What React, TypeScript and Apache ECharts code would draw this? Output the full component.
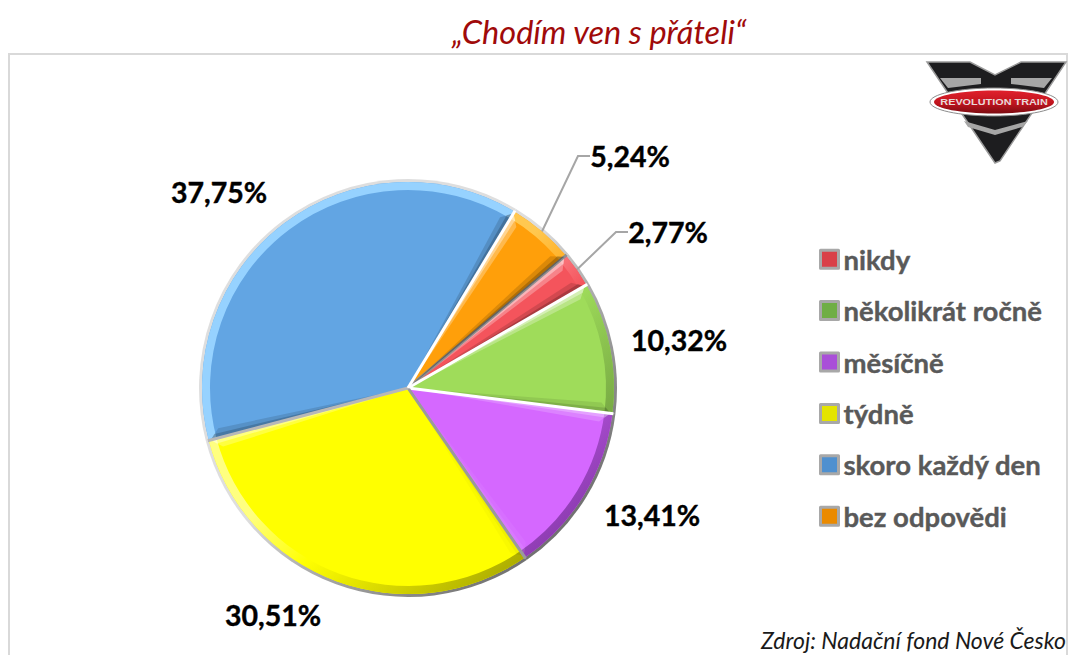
import React, { useEffect, useRef } from "react";
import * as echarts from "echarts";

const categories = ["nikdy", "několikrát ročně", "měsíčně", "týdně", "skoro každý den", "bez odpovědi"];
const values = [2.77, 10.32, 13.41, 30.51, 37.75, 5.24];
const labels = ["2,77%", "10,32%", "13,41%", "30,51%", "37,75%", "5,24%"];
const faceColors = ["#f4545c", "#9fdc5a", "#d568ff", "#ffff00", "#62a5e3", "#ff9f0a"];
const lightColors = ["#ff9a9e", "#d6f5a0", "#e9aaff", "#ffff80", "#96d2ff", "#ffc850"];
const darkColors = ["#a82c32", "#66933a", "#8c3bb0", "#a8a800", "#3f79b2", "#b86c00"];
const legendColors = ["#d94048", "#6fae45", "#a94fd8", "#e4e400", "#4f90cf", "#ea8a00"];
const seamColors = ["#8f8f8f", "#ffffff", "#ffffff", "#9a9a9a", "#b8b8b8", "#ffffff"];
const labelSpots: [number, number][] = [[668, 232], [679, 340], [652, 515], [273, 615], [219, 192], [630, 156]];

const FONT = "Lato, 'Open Sans', sans-serif";
const CX = 408;
const CY = 388;
const R = 206;
const START = 40;
const center = [CX, CY];

function ringGradient(light: string, mid: string, dark: string) {
  return new echarts.graphic.LinearGradient(CX - 150, CY - 150, CX + 150, CY + 150, [
    { offset: 0, color: light },
    { offset: 0.45, color: light },
    { offset: 0.62, color: mid },
    { offset: 1, color: dark },
  ], true);
}

const total = values.reduce((a, b) => a + b, 0);
function boundaryAngle(i: number) {
  let sum = 0;
  for (let k = 0; k < i; k++) sum += values[k];
  return ((START - (sum / total) * 360) * Math.PI) / 180;
}
function polar(r: number, a: number) {
  return [CX + r * Math.cos(a), CY - r * Math.sin(a)];
}

function edgeStrip(a: number, towards: number, width: number, alphaLight: number, alphaDark: number) {
  // outward normal of the slice edge, lit from the top left
  const outX = towards * Math.sin(a);
  const outY = towards * Math.cos(a);
  const dot = outX * -0.707 + outY * -0.707;
  const fill = dot > 0 ? `rgba(255,255,255,${(alphaLight * dot).toFixed(3)})` : `rgba(0,0,0,${(alphaDark * -dot).toFixed(3)})`;
  return {
    type: "polygon",
    shape: { points: [polar(0, a), polar(R - 2, a), polar(R - 2 - width, a + (towards * width) / (R - 2))] },
    style: { fill },
  };
}

function renderBevel(_: any, api: any) {
  const i = api.value(0);
  const a0 = boundaryAngle(i);
  const a1 = boundaryAngle(i + 1);
  const children: any[] = [
    edgeStrip(a0, -1, 10, 0.28, 0.14),
    edgeStrip(a0, -1, 5, 0.4, 0.2),
    edgeStrip(a1, 1, 10, 0.28, 0.14),
    edgeStrip(a1, 1, 5, 0.4, 0.2),
  ];
  const p0 = polar(0, a0);
  const p1 = polar(R + 1, a0);
  children.push({
    type: "line",
    shape: { x1: p0[0], y1: p0[1], x2: p1[0], y2: p1[1] },
    style: { stroke: seamColors[i], lineWidth: 3 },
  });
  return { type: "group", children };
}

function buildOption() {
  return {
    animation: false,
    backgroundColor: "#ffffff",
    title: {
      text: "„Chodím ven s přáteli“",
      left: 594,
      top: 10,
      textAlign: "center",
      textStyle: { fontFamily: FONT, fontStyle: "italic", fontWeight: "normal", fontSize: 32.5, color: "#a00a0a" },
    },
    legend: {
      orient: "vertical",
      left: 819,
      top: 245,
      padding: 0,
      itemWidth: 18,
      itemHeight: 18,
      itemGap: 23,
      icon: "rect",
      selectedMode: false,
      data: categories.map((name, i) => ({ name, itemStyle: { color: legendColors[i] } })),
      itemStyle: { borderColor: "#a8a8a8", borderWidth: 3 },
      textStyle: { fontFamily: FONT, fontWeight: "bold", fontSize: 27.5, lineHeight: 28, color: "#595959", textBorderColor: "#595959", textBorderWidth: 0.4 },
    },
    series: [
      {
        type: "pie",
        silent: true,
        center,
        radius: [0, 209],
        startAngle: START,
        clockwise: true,
        z: 1,
        label: { show: false },
        labelLine: { show: false },
        itemStyle: { color: ringGradient("#dedede", "#b0b0b0", "#6f6f6f") },
        data: categories.map((name, i) => ({ name: name + " ", value: values[i] })),
      },
      {
        type: "pie",
        silent: true,
        center,
        radius: [0, R],
        startAngle: START,
        clockwise: true,
        z: 2,
        avoidLabelOverlap: false,
        label: { show: true, position: "outside", fontFamily: FONT, fontWeight: "bold", fontSize: 28.5, color: "#000000", textBorderColor: "#000000", textBorderWidth: 0.4 },
        labelLine: { show: false, smooth: false, lineStyle: { color: "#a6a6a6", width: 2 } },
        labelLayout: (p: any) => {
          const s = labelSpots[p.dataIndex];
          return { x: s[0], y: s[1], align: "center", verticalAlign: "middle" };
        },
        data: categories.map((name, i) => ({
          name,
          value: values[i],
          label: { formatter: labels[i] },
          labelLine: { show: i === 0 || i === 5, length: 20, length2: 12 },
          itemStyle: { color: faceColors[i] },
        })),
      },
      {
        type: "pie",
        silent: true,
        center,
        radius: [R - 8, R],
        startAngle: START,
        clockwise: true,
        z: 3,
        label: { show: false },
        labelLine: { show: false },
        data: categories.map((name, i) => ({
          name: name + "  ",
          value: values[i],
          itemStyle: { color: ringGradient(lightColors[i], faceColors[i], darkColors[i]) },
        })),
      },
      {
        type: "custom",
        coordinateSystem: "none",
        silent: true,
        z: 4,
        renderItem: renderBevel,
        data: values.map((_, i) => [i]),
      },
    ],
    graphic: [
      { type: "rect", shape: { x: 9, y: 54, width: 1058, height: 640 }, style: { fill: "none", stroke: "#d9d9d9", lineWidth: 2 }, z: -1 },
      {
        type: "group",
        z: 10,
        children: [
          { type: "polygon", shape: { points: [[927, 62], [970, 62], [995, 75], [1021, 62], [1066, 62], [1000, 161], [995, 163]] }, style: { fill: "#1d1d1f", stroke: "#9a9a9a", lineWidth: 1.5 } },
          { type: "polygon", shape: { points: [[940, 78], [981, 78], [981, 84], [948, 88]] }, style: { fill: "#a6a6a6" } },
          { type: "polygon", shape: { points: [[1011, 78], [1052, 78], [1044, 88], [1011, 84]] }, style: { fill: "#a6a6a6" } },
          { type: "polygon", shape: { points: [[964, 121], [995, 130], [1028, 121], [1022, 127], [995, 135], [968, 127]] }, style: { fill: "#a6a6a6" } },
          { type: "ellipse", shape: { cx: 994, cy: 102, rx: 64, ry: 14 }, style: { fill: "#ffffff", stroke: "#8c8c8c", lineWidth: 1 } },
          {
            type: "ellipse",
            shape: { cx: 994, cy: 102, rx: 60, ry: 11.5 },
            style: {
              fill: new echarts.graphic.LinearGradient(0, 0, 0, 1, [
                { offset: 0, color: "#e0202c" },
                { offset: 0.55, color: "#c0141e" },
                { offset: 1, color: "#7c0c12" },
              ]),
            },
          },
          { type: "text", x: 994, y: 102, scaleX: 1.28, style: { text: "REVOLUTION TRAIN", align: "center", verticalAlign: "middle", fontFamily: "'Liberation Sans', sans-serif", fontWeight: "bold", fontSize: 8.5, fill: "#e8d8d8" } },
        ],
      },
      {
        type: "text",
        x: 761,
        y: 640,
        style: { text: "Zdroj: Nadační fond Nové Česko", verticalAlign: "middle", fontFamily: FONT, fontStyle: "italic", fontSize: 23, fill: "#1a1a1a" },
      },
    ],
  };
}

export default function App() {
  const ref = useRef<HTMLDivElement>(null);
  useEffect(() => {
    document.body.style.margin = "0";
    const chart = echarts.init(ref.current!, undefined, { renderer: "svg" });
    chart.setOption(buildOption() as any);
    return () => chart.dispose();
  }, []);
  return <div ref={ref} style={{ width: 1069, height: 655, overflow: "hidden" }} />;
}
